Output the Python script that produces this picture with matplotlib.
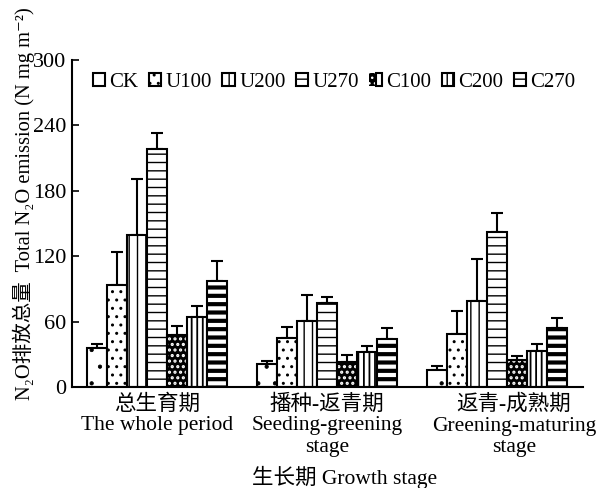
import matplotlib
matplotlib.use('Agg')
import matplotlib.pyplot as plt
from matplotlib.legend_handler import HandlerTuple
import numpy as np

plt.rcParams['font.family'] = ['Liberation Serif', 'Noto Sans CJK SC', 'DejaVu Serif']

# N2O totals (N mg m-2) per growth stage, with upper error bars
stages = ['总生育期\nThe whole period',
          '播种-返青期\nSeeding-greening\nstage',
          '返青-成熟期\nGreening-maturing\nstage']
treatments = ['CK', 'U100', 'U200', 'U270', 'C100', 'C200', 'C270']
means = {
    'CK':   [36, 21, 16],
    'U100': [94, 45, 49],
    'U200': [139, 61, 79],
    'U270': [218, 77, 142],
    'C100': [48, 23, 25],
    'C200': [64, 32, 33],
    'C270': [97, 44, 54],
}
errors = {
    'CK':   [3, 3, 3],
    'U100': [30, 10, 21],
    'U200': [52, 23, 38],
    'U270': [15, 6, 18],
    'C100': [8, 6, 3],
    'C200': [10, 6, 6],
    'C270': [19, 10, 9],
}

# hatch, face, hatch line width
styles = {
    'CK':   ('.', 'white', 0.6),
    'U100': ('..', 'white', 1.0),
    'U200': ('||', 'white', 1.0),
    'U270': ('--', 'white', 1.0),
    'C100': ('...', 'black', 1.5),
    'C200': ('|||', 'white', 1.3),
    'C270': ('--', 'white', 3.0),
}

fig = plt.figure(figsize=(6.07, 4.88), dpi=100)
ax = fig.add_axes([72 / 607, 0.207, 511 / 607, 0.67])

centers = np.arange(len(stages)) * 8.5
width = 1.0
handles = []
for i, t in enumerate(treatments):
    x = centers + (i - 3) * width
    hatch, face, hlw = styles[t]
    with plt.rc_context({'hatch.linewidth': hlw}):
        if face == 'black':
            # white dots on black: hatch drawn in edge colour, outline added on top
            inner = ax.bar(x, means[t], width, color='black', edgecolor='white',
                           hatch=hatch, linewidth=0, zorder=2)
            outer = ax.bar(x, means[t], width, fill=False, edgecolor='black',
                           linewidth=1.5, zorder=3)
            handles.append((inner[0], outer[0]))
        else:
            b = ax.bar(x, means[t], width, color=face, edgecolor='black',
                       hatch=hatch, linewidth=1.5, zorder=2)
            handles.append(b[0])
    ax.errorbar(x, means[t], yerr=[np.zeros(len(stages)), errors[t]],
                fmt='none', ecolor='black', elinewidth=1.5, capsize=4,
                capthick=1.5, zorder=1)

ax.legend(handles, treatments, ncol=7, loc='upper center',
          bbox_to_anchor=(0.513, 1.0), frameon=False, fontsize=15,
          handlelength=0.6, handleheight=0.6, handletextpad=0.2,
          columnspacing=0.5, borderaxespad=0.2,
          handler_map={tuple: HandlerTuple(ndivide=None, pad=0)})

ax.set_xlim(-4.25, 21.3)
ax.set_ylim(0, 300)
ax.set_yticks([0, 60, 120, 180, 240, 300])
ax.tick_params(axis='y', direction='in', length=5, width=1.2, labelsize=16, pad=4)
ax.set_xticks([centers[0], centers[1], centers[2] + 0.85])
ax.set_xticklabels(stages, fontsize=15.5, linespacing=1.15)
ax.tick_params(axis='x', length=0, pad=5)
for s in ['top', 'right']:
    ax.spines[s].set_visible(False)
for s in ['left', 'bottom']:
    ax.spines[s].set_linewidth(1.5)

ax.set_xlabel('生长期 Growth stage', fontsize=15.5, labelpad=2)
ax.xaxis.set_label_coords(0.534, -0.24)

fig.text(24 / 607, 1 - 400 / 488, 'N₂O排放总量  Total N₂O emission (N mg m⁻²)',
         rotation=90, ha='center', va='bottom', fontsize=14.8)

fig.savefig('out.png', dpi=100, facecolor='white')
